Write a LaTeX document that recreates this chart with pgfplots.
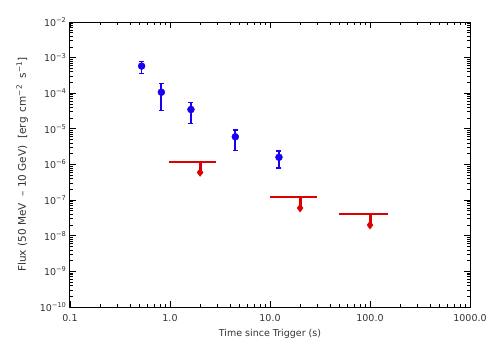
\documentclass[border=0pt]{standalone}
\usepackage{fontspec}
\setmainfont{DejaVu Sans}
\usepackage{pgfplots}
\pgfplotsset{compat=1.18}
\definecolor{ptblue}{RGB}{25,0,240}
\definecolor{ulred}{RGB}{220,0,0}

\begin{document}
\begin{tikzpicture}
\path[use as bounding box] (-70pt,-43pt) rectangle (421pt,307pt);
\begin{axis}[
    scale only axis,
    width=400pt, height=285pt,
    xmode=log, ymode=log,
    xmin=0.1, xmax=1000,
    ymin=1e-10, ymax=1e-2,
    xtick={0.1,1,10,100,1000},
    xticklabels={0.1,1.0,10.0,100.0,1000.0},
    ytick={1e-10,1e-9,1e-8,1e-7,1e-6,1e-5,1e-4,1e-3,1e-2},
    yticklabels={10\textsuperscript{−10},10\textsuperscript{−9},10\textsuperscript{−8},10\textsuperscript{−7},10\textsuperscript{−6},10\textsuperscript{−5},10\textsuperscript{−4},10\textsuperscript{−3},10\textsuperscript{−2}},
    tick label style={font=\fontsize{9.5}{11}\selectfont, color=black!80},
    label style={font=\fontsize{9.5}{11}\selectfont, color=black!80},
    xticklabel style={yshift=-4pt},
    xlabel={Time since Trigger (s)},
    ylabel={Flux (50 MeV \ –\ 10 GeV) \ [erg \,cm\textsuperscript{−2} \ s\textsuperscript{−1}]},
    ylabel style={font=\fontsize{10.5}{12}\selectfont, yshift=5pt},
    xlabel style={yshift=-1pt},
    major tick length=6pt, minor tick length=3pt,
    tick style={black, line width=0.8pt},
    axis line style={line width=1pt},
    tick align=inside,
    clip=false,
]
% detections
\addplot[only marks, mark=*, mark size=3.5pt, color=ptblue,
    error bars/.cd, y dir=both, y explicit,
    error bar style={line width=1.8pt},
    error mark options={rotate=90, mark size=2.5pt, line width=1.2pt}]
  table[x=t, y=f, y error plus=ep, y error minus=em] {
    t     f        ep       em
    0.52  5.8e-4   2.1e-4   2.3e-4
    0.82  1.07e-4  0.78e-4  0.75e-4
    1.62  3.5e-5   2.0e-5   2.05e-5
    4.5   6.0e-6   3.3e-6   3.5e-6
    12.3  1.6e-6   0.8e-6   0.8e-6
};
% upper limits: horizontal bars
\addplot[ulred, line width=2.2pt] coordinates {(0.97,1.2e-6) (2.9,1.2e-6)};
\addplot[ulred, line width=2.2pt] coordinates {(10,1.2e-7) (29.7,1.2e-7)};
\addplot[ulred, line width=2.2pt] coordinates {(49.5,4.1e-8) (150,4.1e-8)};
% arrows
\addplot[ulred, line width=3pt] coordinates {(2,1.2e-6) (2,0.62e-6)};
\addplot[ulred, line width=3pt] coordinates {(20,1.2e-7) (20,0.62e-7)};
\addplot[ulred, line width=3pt] coordinates {(100,4.1e-8) (100,2.1e-8)};
\addplot[only marks, mark=diamond*, mark size=4pt, color=ulred]
  coordinates {(2,0.6e-6) (20,0.6e-7) (100,2.0e-8)};
\end{axis}
\end{tikzpicture}
\end{document}
